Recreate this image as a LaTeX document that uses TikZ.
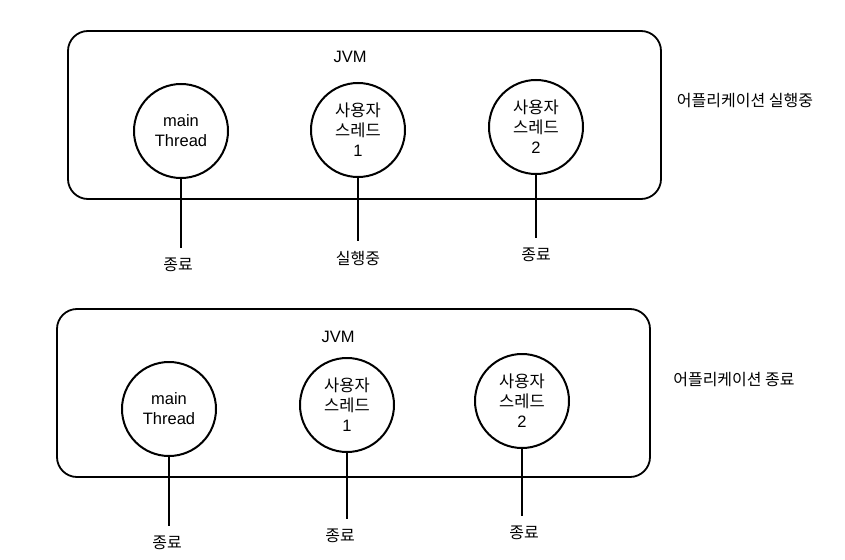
\documentclass[tikz,border=0pt]{standalone}
\usepackage{fontspec}
\setmainfont{Liberation Sans}
\newfontfamily\kr{Noto Sans CJK KR}
\tikzset{
  thread/.style={circle, draw, line width=2pt, minimum size=94pt, inner sep=0pt,
    align=center, font=\fontsize{16.5}{20}\selectfont},
  tag/.style={font=\kr\fontsize{16}{20}\selectfont, inner sep=2pt},
  jvmbox/.style={draw, line width=1.8pt, rounded corners=20pt},
  tail/.style={line width=2pt, shorten >=8pt}
}
\begin{document}
\begin{tikzpicture}[x=1pt,y=-1pt]
  \useasboundingbox (0,0) rectangle (845,559);
  % application running
  \draw [jvmbox] (68,31) rectangle (661,199);
  \node [tag, font=\fontsize{16.5}{20}\selectfont] (jvma) at (350,57) {JVM};
  \node [thread] (maina) at (181,131) {main\\Thread};
  \node [thread] (usera) at (358,130) {{\kr 사용자}\\{\kr 스레드}\\1};
  \node [thread] (userb) at (536,127) {{\kr 사용자}\\{\kr 스레드}\\2};
  \node [tag] (mainatag) at (178,265) {종료};
  \node [tag] (useratag) at (358,258) {실행중};
  \node [tag] (userbtag) at (536,255) {종료};
  \draw [tail] (maina.south) -- (maina.south |- mainatag.north);
  \draw [tail] (usera.south) -- (usera.south |- useratag.north);
  \draw [tail] (userb.south) -- (userb.south |- userbtag.north);
  \node [tag] (runa) at (745,101) {어플리케이션 실행중};
  % application finished
  \draw [jvmbox] (57,309) rectangle (650,477);
  \node [tag, font=\fontsize{16.5}{20}\selectfont] (jvmb) at (338,337) {JVM};
  \node [thread] (mainb) at (169,409) {main\\Thread};
  \node [thread] (userc) at (347,405) {{\kr 사용자}\\{\kr 스레드}\\1};
  \node [thread] (userd) at (522,401) {{\kr 사용자}\\{\kr 스레드}\\2};
  \node [tag] (mainbtag) at (167,543) {종료};
  \node [tag] (userctag) at (340,536) {종료};
  \node [tag] (userdtag) at (524,533) {종료};
  \draw [tail] (mainb.south) -- (mainb.south |- mainbtag.north);
  \draw [tail] (userc.south) -- (userc.south |- userctag.north);
  \draw [tail] (userd.south) -- (userd.south |- userdtag.north);
  \node [tag] (endb) at (734,380) {어플리케이션 종료};
\end{tikzpicture}
\end{document}
